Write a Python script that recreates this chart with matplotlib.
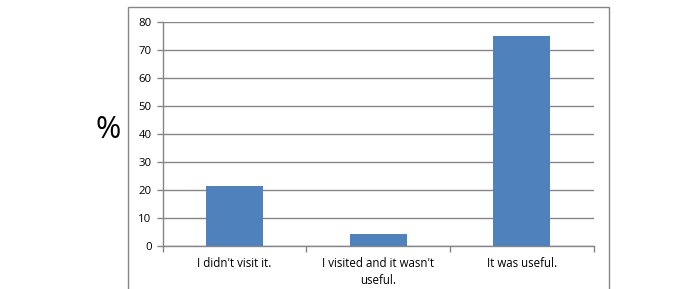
import matplotlib
matplotlib.use("Agg")
import matplotlib.pyplot as plt
from matplotlib.patches import Rectangle
import numpy as np

categories = ["I didn't visit it.", "I visited and it wasn't\nuseful.", "It was useful."]
values = [21.3, 4.2, 75.0]
yticks = [0, 10, 20, 30, 40, 50, 60, 70, 80]

plt.rcParams['font.family'] = ['Open Sans', 'DejaVu Sans']

fig = plt.figure(figsize=(7, 2.89), dpi=100)
ax = fig.add_axes([162.7/700, 43.3/289, 431/700, 223.7/289])

grey = "#868686"
x = np.arange(len(categories))
ax.bar(x, values, width=0.395, color="#4F81BD", zorder=3)
ax.set_xlim(-0.5, 2.5)
ax.set_ylim(0, 80)
ax.set_yticks(yticks)
ax.set_yticklabels([str(v) for v in yticks], fontsize=8.2)
ax.yaxis.grid(True, color=grey, linewidth=1.0, zorder=0)
ax.set_xticks(x)
ax.set_xticklabels(categories, fontsize=8.3, linespacing=1.45)
ax.set_xticks([-0.5, 0.5, 1.5, 2.5], minor=True)
ax.tick_params(axis='x', which='major', length=0, pad=8)
ax.tick_params(axis='x', which='minor', length=4, color=grey, width=1)
ax.tick_params(axis='y', length=4, color=grey, width=1, pad=4)
for s in ['top', 'right']:
    ax.spines[s].set_visible(False)
for s in ['left', 'bottom']:
    ax.spines[s].set_color(grey)
    ax.spines[s].set_linewidth(1)

fig.text(108/700, 1 - 130/289, "%", fontsize=22, ha='center', va='center')

box = Rectangle((127.5/700, -0.2), (608.5-127.5)/700, (289-7)/289 + 0.2,
                transform=fig.transFigure, fill=False, edgecolor=grey,
                linewidth=1, clip_on=False)
fig.patches.append(box)

fig.savefig("out.png", dpi=100)
